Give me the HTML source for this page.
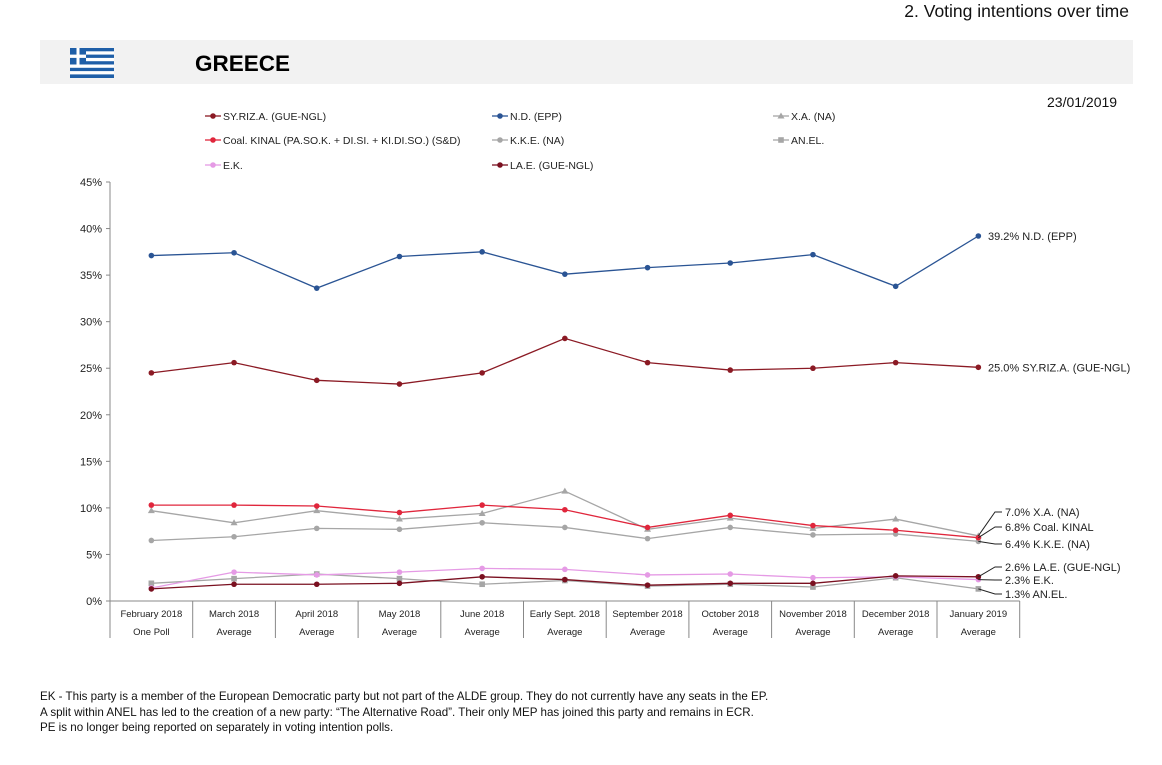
<!DOCTYPE html>
<html><head><meta charset="utf-8"><style>
body{margin:0;width:1162px;height:765px;background:#fff;font-family:"Liberation Sans",Arial,sans-serif;overflow:hidden;position:relative}
.t{position:absolute;white-space:nowrap}
</style></head><body>
<div class="t" style="right:33px;top:1px;font-size:17.5px;color:#111">2. Voting intentions over time</div>
<div style="position:absolute;left:40px;top:40px;width:1093px;height:44px;background:#f2f2f2"></div>
<svg style="position:absolute;left:70px;top:48px" width="44" height="30" viewBox="0 0 44 30">
<rect width="44" height="30" fill="#fff"/>
<g fill="#1f5fa8"><rect y="0" width="44" height="3.3"/><rect y="6.6" width="44" height="3.3"/><rect y="13.2" width="44" height="3.3"/><rect y="19.8" width="44" height="3.3"/><rect y="26.4" width="44" height="3.6"/><rect width="16" height="16.5"/></g>
<rect x="6.5" y="0" width="3" height="16.5" fill="#fff"/><rect x="0" y="6.6" width="16" height="3.3" fill="#fff"/>
</svg>
<div class="t" style="left:195px;top:51px;font-size:22.5px;font-weight:bold;color:#000">GREECE</div>
<div class="t" style="left:1047px;top:94px;font-size:14px;color:#111">23/01/2019</div>
<svg id="chart" style="position:absolute;left:0;top:0" width="1162" height="765"></svg>
<div class="t" style="left:40px;top:689px;font-size:11.6px;line-height:15.5px;color:#111">EK - This party is a member of the European Democratic party but not part of the ALDE group. They do not currently have any seats in the EP.<br>A split within ANEL has led to the creation of a new party: “The Alternative Road”. Their only MEP has joined this party and remains in ECR.<br>PE is no longer being reported on separately in voting intention polls.</div>
<script>
const categories=["February 2018","March 2018","April 2018","May 2018","June 2018","Early Sept. 2018","September 2018","October 2018","November 2018","December 2018","January 2019"];
const subLabels=["One Poll","Average","Average","Average","Average","Average","Average","Average","Average","Average","Average"];
const yTicks=[0,5,10,15,20,25,30,35,40,45];
const nd=[37.1,37.4,33.6,37.0,37.5,35.1,35.8,36.3,37.2,33.8,39.2];
const syriza=[24.5,25.6,23.7,23.3,24.5,28.2,25.6,24.8,25.0,25.6,25.1];
const kinal=[10.3,10.3,10.2,9.5,10.3,9.8,7.9,9.2,8.1,7.6,6.8];
const xa=[9.7,8.4,9.7,8.8,9.4,11.8,7.7,8.9,7.8,8.8,7.0];
const kke=[6.5,6.9,7.8,7.7,8.4,7.9,6.7,7.9,7.1,7.2,6.4];
const ek=[1.4,3.1,2.8,3.1,3.5,3.4,2.8,2.9,2.5,2.6,2.3];
const anel=[1.9,2.4,2.9,2.4,1.8,2.2,1.6,1.8,1.5,2.5,1.3];
const lae=[1.3,1.8,1.8,1.9,2.6,2.3,1.7,1.9,1.9,2.7,2.6];
const NS="http://www.w3.org/2000/svg";
const svg=document.getElementById('chart');
const x0=110,cw=82.7,yb=601,ppu=(601-182)/45;
const X=i=>x0+cw*(i+0.5), Y=v=>yb-v*ppu;
function el(t,a,p){const e=document.createElementNS(NS,t);for(const k in a)e.setAttribute(k,a[k]);(p||svg).appendChild(e);return e;}
const ya=el('line',{x1:x0,y1:182,x2:x0,y2:yb,stroke:'#888'});


yTicks.forEach(v=>{
 el('line',{x1:x0-4,y1:Y(v),x2:x0,y2:Y(v),stroke:'#888'});
 const t=el('text',{x:x0-8,y:Y(v)+4,'text-anchor':'end','font-size':11,fill:'#222'});t.textContent=v+'%';
 
 
});
el('line',{x1:x0,y1:yb,x2:x0+cw*categories.length,y2:yb,stroke:'#888'});
for(let i=0;i<=categories.length;i++){el('line',{x1:x0+cw*i,y1:yb,x2:x0+cw*i,y2:638,stroke:'#888'});}
categories.forEach((c,i)=>{
 const t=el('text',{x:X(i),y:617,'text-anchor':'middle','font-size':9.5,fill:'#222'});t.textContent=c;
 
 
 const s=el('text',{x:X(i),y:635,'text-anchor':'middle','font-size':9.5,fill:'#222'});s.textContent=subLabels[i];
 
 
});
const series=[
 {n:'kke',d:kke,c:'#a6a6a6',m:'c'},
 {n:'anel',d:anel,c:'#a6a6a6',m:'s'},
 {n:'xa',d:xa,c:'#a6a6a6',m:'t'},
 {n:'ek',d:ek,c:'#e59ae5',m:'c'},
 {n:'kinal',d:kinal,c:'#e0263c',m:'c'},
 {n:'lae',d:lae,c:'#7a1020',m:'c'},
 {n:'syriza',d:syriza,c:'#8b1a24',m:'c'},
 {n:'nd',d:nd,c:'#2a5494',m:'c'}];
function marker(m,x,y,c,g){
 if(m==='c')return el('circle',{cx:x,cy:y,r:2.8,fill:c},g);
 if(m==='s')return el('rect',{x:x-2.8,y:y-2.8,width:5.6,height:5.6,fill:c},g);
 return el('polygon',{points:`${x},${y-3.5} ${x+3.5},${y+2.5} ${x-3.5},${y+2.5}`,fill:c},g);
}
series.forEach(s=>{
 const g=el('g',{});
 
 
 const p=el('polyline',{points:s.d.map((v,i)=>X(i)+','+Y(v)).join(' '),fill:'none',stroke:s.c,'stroke-width':1.3},g);
 
 
 s.d.forEach((v,i)=>{const m=marker(s.m,X(i),Y(v),s.c,g);
  
  });
});
const last=categories.length-1;
function lab(txt,v,ly,lx){
 const t=el('text',{x:lx,y:ly+4,'font-size':11,fill:'#222'});t.textContent=txt;
 
 
 return t;
}
lab(nd[last].toFixed(1)+'% N.D. (EPP)',nd[last],Y(nd[last]),988);
lab(syriza[last].toFixed(1).replace('25.1','25.0')+'% SY.RIZ.A. (GUE-NGL)',syriza[last],Y(syriza[last]),988);
const callouts=[[xa[last],512,'% X.A. (NA)'],[kinal[last],527,'% Coal. KINAL'],[kke[last],544,'% K.K.E. (NA)'],[lae[last],567,'% LA.E. (GUE-NGL)'],[ek[last],580,'% E.K.'],[anel[last],594,'% AN.EL.']];
callouts.forEach(([v,ly,s])=>{
 el('polyline',{points:`${X(last)},${Y(v)} 995,${ly} 1002,${ly}`,fill:'none',stroke:'#222','stroke-width':1});
 lab(v.toFixed(1)+s,v,ly,1005);
});
const legend=[['SY.RIZ.A. (GUE-NGL)','#8b1a24','c',205,116],['N.D. (EPP)','#2a5494','c',492,116],['X.A. (NA)','#a6a6a6','t',773,116],
['Coal. KINAL (PA.SO.K. + DI.SI. + KI.DI.SO.) (S&D)','#e0263c','c',205,140],['K.K.E. (NA)','#a6a6a6','c',492,140],['AN.EL.','#a6a6a6','s',773,140],
['E.K.','#e59ae5','c',205,165],['LA.E. (GUE-NGL)','#7a1020','c',492,165]];
legend.forEach(([n,c,m,x,y])=>{
 const g=el('g',{});
 
 
 el('line',{x1:x,y1:y,x2:x+16,y2:y,stroke:c,'stroke-width':1.3},g);
 marker(m,x+8,y,c,g);
 const t=el('text',{x:x+18,y:y+4,'font-size':10.5,fill:'#222'},g);t.textContent=n;
});
</script>
</body></html>
